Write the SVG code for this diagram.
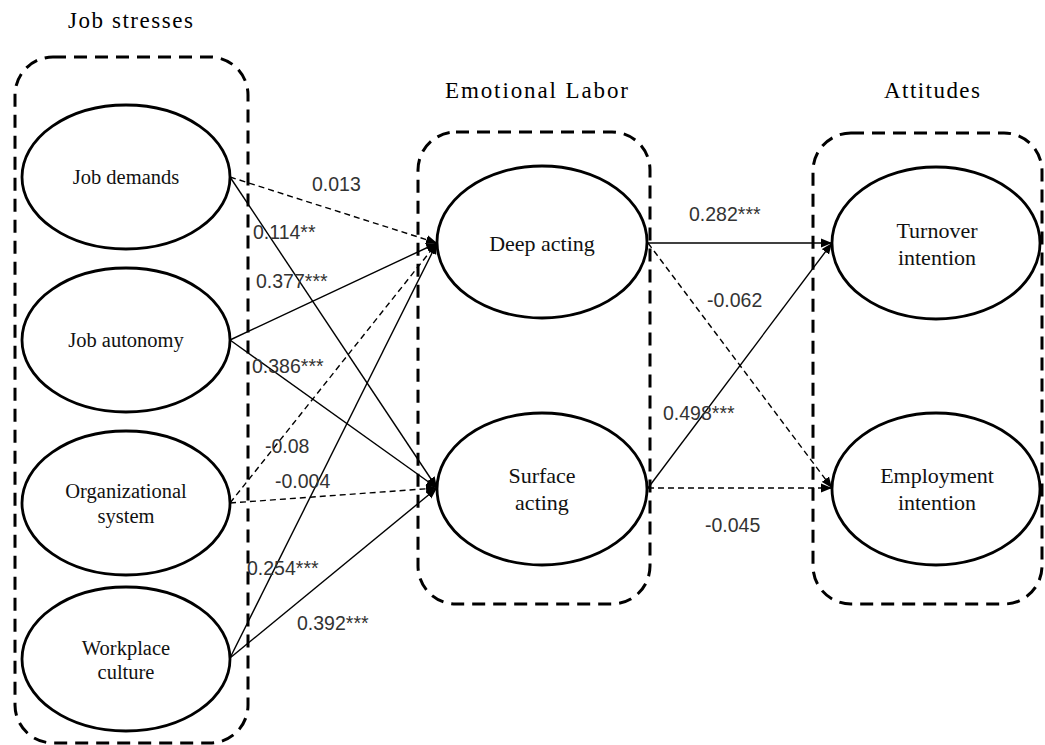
<svg xmlns="http://www.w3.org/2000/svg" width="1045" height="745" viewBox="0 0 1045 745">
<style>
.box{fill:none;stroke:#000;stroke-width:3;stroke-dasharray:13 8}
.node{fill:#fff;stroke:#000;stroke-width:2.8}
.title{font-family:"Liberation Serif","Times New Roman",serif;font-size:23px;fill:#000}
.nt{font-family:"Liberation Serif","Times New Roman",serif;font-size:20.5px;fill:#111;text-anchor:middle}
.nt2{font-family:"Liberation Serif","Times New Roman",serif;font-size:22px;fill:#111;text-anchor:middle}
.lbl{font-family:"Liberation Sans",Arial,sans-serif;font-size:19.5px;fill:#333}
.c{fill:none;stroke:#000;stroke-width:1.4;marker-end:url(#ah)}
.d{stroke-dasharray:6 4}
</style>
<defs>
<marker id="ah" markerUnits="userSpaceOnUse" markerWidth="12" markerHeight="10" refX="11" refY="5" orient="auto">
<path d="M0,0.5 L11,5 L0,9.5 Z" fill="#000"/>
</marker>
</defs>
<rect width="1045" height="745" fill="#fff"/>
<g id="groups">
<rect class="box" x="15" y="57" width="233" height="686" rx="38" ry="38"/>
<rect class="box" x="418" y="132" width="232" height="472" rx="38" ry="38"/>
<rect class="box" x="813" y="133" width="229" height="471" rx="38" ry="38"/>
<text class="title" x="68" y="28" textLength="125" lengthAdjust="spacing">Job stresses</text>
<text class="title" x="445" y="98" textLength="183" lengthAdjust="spacing">Emotional  Labor</text>
<text class="title" x="884" y="98" textLength="96" lengthAdjust="spacing">Attitudes</text>
</g>
<g id="connectors">
<line class="c d" x1="230" y1="177" x2="437" y2="243"/>
<line class="c" x1="230" y1="177" x2="437" y2="488"/>
<line class="c" x1="230" y1="340" x2="437" y2="243"/>
<line class="c" x1="230" y1="340" x2="437" y2="488"/>
<line class="c d" x1="230" y1="503" x2="437" y2="243"/>
<line class="c d" x1="230" y1="503" x2="437" y2="488"/>
<line class="c" x1="230" y1="658" x2="437" y2="243"/>
<line class="c" x1="230" y1="658" x2="437" y2="488"/>
<line class="c" x1="648" y1="243" x2="832" y2="243"/>
<line class="c d" x1="648" y1="243" x2="832" y2="488"/>
<line class="c" x1="648" y1="488" x2="832" y2="243"/>
<line class="c d" x1="648" y1="488" x2="832" y2="488"/>
</g>
<g id="labels">
<text class="lbl" x="312" y="191">0.013</text>
<text class="lbl" x="253" y="239">0.114**</text>
<text class="lbl" x="256" y="288">0.377***</text>
<text class="lbl" x="252" y="373">0.386***</text>
<text class="lbl" x="265" y="453">-0.08</text>
<text class="lbl" x="275" y="488">-0.004</text>
<text class="lbl" x="247" y="575">0.254***</text>
<text class="lbl" x="297" y="630">0.392***</text>
<text class="lbl" x="689" y="221">0.282***</text>
<text class="lbl" x="707" y="307">-0.062</text>
<text class="lbl" x="663" y="420">0.498***</text>
<text class="lbl" x="705" y="532">-0.045</text>
</g>
<g id="job-demands">
<ellipse class="node" cx="126" cy="177" rx="104" ry="72"/>
<text class="nt" x="126" y="184">Job demands</text>
</g>
<g id="job-autonomy">
<ellipse class="node" cx="126" cy="340" rx="104" ry="72"/>
<text class="nt" x="126" y="347">Job autonomy</text>
</g>
<g id="organizational-system">
<ellipse class="node" cx="126" cy="503" rx="104" ry="72"/>
<text class="nt" x="126" y="498">Organizational</text>
<text class="nt" x="126" y="523">system</text>
</g>
<g id="workplace-culture">
<ellipse class="node" cx="126" cy="659" rx="104" ry="72"/>
<text class="nt" x="126" y="655">Workplace</text>
<text class="nt" x="126" y="679">culture</text>
</g>
<g id="deep-acting">
<ellipse class="node" cx="542" cy="242" rx="105" ry="76"/>
<text class="nt2" x="542" y="251">Deep acting</text>
</g>
<g id="surface-acting">
<ellipse class="node" cx="542" cy="489" rx="105" ry="76"/>
<text class="nt2" x="542" y="483">Surface</text>
<text class="nt2" x="542" y="510">acting</text>
</g>
<g id="turnover-intention">
<ellipse class="node" cx="936" cy="243" rx="104" ry="76"/>
<text class="nt2" x="937" y="238">Turnover</text>
<text class="nt2" x="937" y="265">intention</text>
</g>
<g id="employment-intention">
<ellipse class="node" cx="936" cy="489" rx="104" ry="76"/>
<text class="nt2" x="937" y="483">Employment</text>
<text class="nt2" x="937" y="510">intention</text>
</g>
</svg>
